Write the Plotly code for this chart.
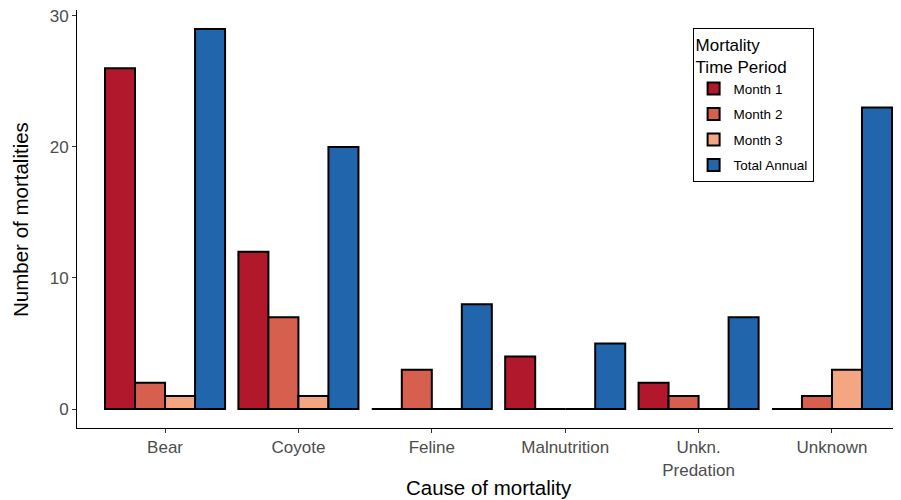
import plotly.graph_objects as go

categories = ["Bear", "Coyote", "Feline", "Malnutrition", "Unkn.<br>Predation", "Unknown"]
month1 = [26, 12, 0, 4, 2, 0]
month2 = [2, 7, 3, 0, 1, 1]
month3 = [1, 1, 0, 0, 0, 3]
total_annual = [29, 20, 8, 5, 7, 23]

series = [
    ("Month 1", month1, "#B2182B"),
    ("Month 2", month2, "#D6604D"),
    ("Month 3", month3, "#F4A582"),
    ("Total Annual", total_annual, "#2166AC"),
]

fig = go.Figure()
for name, vals, col in series:
    fig.add_trace(go.Bar(
        x=categories, y=vals, name=name, legendgroup=name,
        marker=dict(color=col, line=dict(color="black", width=2)),
    ))

FONT = "Liberation Sans, Arial, sans-serif"
fig.update_layout(
    width=893, height=492,
    margin=dict(l=69, r=1, t=2, b=72, autoexpand=False),
    plot_bgcolor="white", paper_bgcolor="white",
    barmode="group", bargap=0.1, bargroupgap=0,
    font=dict(family=FONT, color="black"),
    legend=dict(
        title=dict(text="Mortality<br>Time Period", font=dict(size=17)),
        font=dict(size=13.5),
        x=0.748, y=0.957, xanchor="left", yanchor="top",
        bordercolor="black", borderwidth=1, bgcolor="white",
        traceorder="grouped", tracegroupgap=5,
    ),
    xaxis=dict(
        range=[-0.66, 5.51], automargin=False,
        showline=True, linecolor="black", linewidth=1,
        ticks="outside", ticklen=4, tickcolor="#333333",
        tickfont=dict(size=17, color="#4D4D4D"),
        showgrid=False, zeroline=False,
    ),
    yaxis=dict(
        range=[-1.45, 30.45], automargin=False,
        tickvals=[0, 10, 20, 30], ticklabeloverflow="allow",
        showline=True, linecolor="black", linewidth=1,
        ticks="outside", ticklen=4, tickcolor="#333333",
        tickfont=dict(size=17, color="#4D4D4D"),
        showgrid=False, zeroline=False,
    ),
    annotations=[
        dict(text="Cause of mortality", xref="paper", yref="paper",
             x=0.5, y=-0.1435, xanchor="center", yanchor="middle",
             showarrow=False, font=dict(size=20.5, family=FONT)),
        dict(text="Number of mortalities", xref="paper", yref="paper",
             x=-0.0693, y=0.5, xanchor="center", yanchor="middle", textangle=-90,
             showarrow=False, font=dict(size=20.5, family=FONT)),
    ],
)

fig.write_html("out.html")
